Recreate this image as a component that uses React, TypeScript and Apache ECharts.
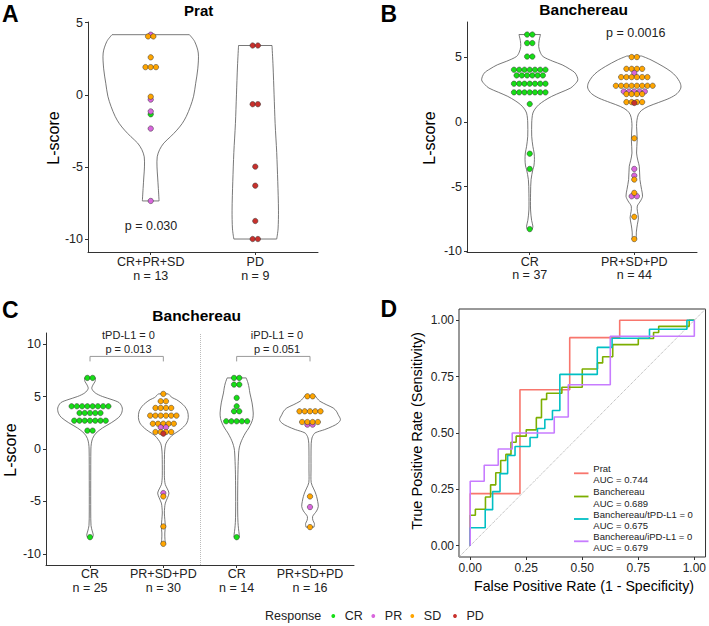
import React, { useEffect, useRef } from "react";
import * as echarts from "echarts";

const FONT = "Liberation Sans, Arial, Helvetica, sans-serif";

// ---------- responses ----------
const RESPONSES = ["CR", "PR", "SD", "PD"];
const RESPONSE_COLORS = ["#16DE16", "#D966DD", "#FFA500", "#C8302C"];

// ---------- panel A (Prat) ----------
const A_CATS = ["CR+PR+SD", "PD"];
const A_NS = [13, 9];
const A_Y_TICKS = [-10, -5, 0, 5];
// [category, L-score, response, count]
const A_DOTS = [
  [1, 4.17, "PR", 1], [1, 4.05, "SD", 2], [1, 2.6, "SD", 1], [1, 1.92, "SD", 3],
  [1, -0.33, "PR", 1], [1, -0.13, "SD", 1], [1, -1.35, "CR", 1], [1, -1.15, "PR", 1],
  [1, -2.34, "PR", 1], [1, -7.36, "PR", 1],
  [2, 3.42, "PD", 2], [2, -0.65, "PD", 2], [2, -4.98, "PD", 1], [2, -6.3, "PD", 1],
  [2, -8.75, "PD", 1], [2, -10, "PD", 2],
];
// violin outlines: [L-score, half width]
const A_VIOLIN_1 = [[4.17, 0.37], [3.7, 0.42], [2.9, 0.455], [1.8, 0.45], [0.8, 0.43], [-0.1, 0.41], [-0.8, 0.38], [-1.5, 0.34], [-2.0, 0.3], [-2.45, 0.25], [-2.9, 0.19], [-3.35, 0.125], [-3.8, 0.085], [-4.3, 0.062], [-5.0, 0.06], [-5.7, 0.066], [-6.5, 0.073], [-7.36, 0.08]];
const A_VIOLIN_2 = [[3.42, 0.16], [2, 0.17], [0, 0.18], [-2, 0.19], [-4, 0.205], [-6, 0.215], [-8, 0.222], [-9.3, 0.218], [-10, 0.205]];

// ---------- panel B (Banchereau) ----------
const B_CATS = ["CR", "PR+SD+PD"];
const B_NS = [37, 44];
const B_Y_TICKS = [-10, -5, 0, 5];
const B_DOTS = [
  [1, 6.76, "CR", 2], [1, 6.1, "CR", 2], [1, 5.06, "CR", 2], [1, 4.04, "CR", 7], [1, 3.6, "CR", 6],
  [1, 2.96, "CR", 7], [1, 2.29, "CR", 7], [1, 1.39, "CR", 1], [1, -2.45, "CR", 1], [1, -3.63, "CR", 1],
  [1, -8.28, "CR", 1],
  [2, 5.02, "SD", 2], [2, 4.11, "SD", 4], [2, 3.78, "PR", 1], [2, 3.47, "SD", 6], [2, 2.8, "SD", 8],
  [2, 2.36, "PR", 5], [2, 2.16, "SD", 4], [2, 1.54, "SD", 4], [2, 1.47, "PD", 1], [2, -1.26, "SD", 1],
  [2, -3.63, "PR", 1], [2, -4.14, "PR", 1], [2, -4.45, "SD", 1], [2, -5.74, "PR", 2], [2, -5.48, "SD", 1],
  [2, -7.33, "SD", 1], [2, -9.05, "SD", 1],
];
const B_VIOLIN_1 = [[6.76, 0.103], [6.3, 0.09], [5.83, 0.086], [5.4, 0.1], [5.06, 0.127], [4.7, 0.22], [4.42, 0.31], [4.1, 0.38], [3.78, 0.435], [3.26, 0.46], [2.9, 0.43], [2.62, 0.39], [2.3, 0.3], [1.98, 0.21], [1.65, 0.14], [1.33, 0.086], [1.0, 0.05], [0.69, 0.03], [0.3, 0.022], [-0.08, 0.019], [-1.1, 0.019], [-1.88, 0.03], [-2.4, 0.042], [-2.9, 0.045], [-3.4, 0.04], [-3.68, 0.03], [-4.45, 0.013], [-5.5, 0.008], [-6.8, 0.008], [-7.6, 0.018], [-8.05, 0.03], [-8.28, 0.025]];
const B_VIOLIN_2 = [[5.1, 0.071], [4.8, 0.16], [4.29, 0.276], [3.9, 0.35], [3.52, 0.4], [3.0, 0.44], [2.62, 0.445], [2.2, 0.41], [1.85, 0.34], [1.5, 0.23], [1.2, 0.133], [0.9, 0.07], [0.56, 0.038], [0.1, 0.025], [-0.34, 0.022], [-1.37, 0.028], [-2.4, 0.022], [-3.0, 0.035], [-3.42, 0.048], [-4.45, 0.054], [-5.22, 0.07], [-5.74, 0.079], [-6.1, 0.06], [-6.5, 0.029], [-6.9, 0.03], [-7.4, 0.04], [-7.9, 0.03], [-8.5, 0.02], [-9.05, 0.02]];

// ---------- panel C (Banchereau, PD-L1 = 0) ----------
const C_CATS = ["CR", "PR+SD+PD", "CR", "PR+SD+PD"];
const C_NS = [25, 30, 14, 16];
const C_Y_TICKS = [-10, -5, 0, 5, 10];
const C_DOTS = [
  [1, 6.77, "CR", 2], [1, 4.07, "CR", 8], [1, 3.43, "CR", 5], [1, 2.7, "CR", 7], [1, 1.75, "CR", 2], [1, -8.4, "CR", 1],
  [2, 5.25, "SD", 1], [2, 4.55, "SD", 2], [2, 3.91, "SD", 4], [2, 3.18, "SD", 6], [2, 2.41, "SD", 5],
  [2, 2.06, "PR", 2], [2, 1.62, "SD", 4], [2, 1.46, "PD", 1], [2, -4.2, "PR", 1], [2, -4.52, "SD", 1],
  [2, -7.38, "SD", 1], [2, -9.03, "SD", 1],
  [3, 6.77, "CR", 2], [3, 6.14, "CR", 2], [3, 4.87, "CR", 1], [3, 4.07, "CR", 1], [3, 3.59, "CR", 2],
  [3, 2.64, "CR", 5], [3, -8.4, "CR", 1],
  [4, 5.02, "SD", 2], [4, 3.59, "SD", 5], [4, 2.32, "PR", 2], [4, 2.57, "SD", 4], [4, -4.52, "SD", 1],
  [4, -5.53, "PR", 1], [4, -7.44, "SD", 1],
];
const C_VIOLIN_1 = [[6.77, 0.075], [6.45, 0.07], [6.1, 0.04], [5.75, 0.025], [5.35, 0.07], [5.0, 0.17], [4.7, 0.3], [4.4, 0.4], [3.9, 0.44], [3.4, 0.43], [3.0, 0.39], [2.5, 0.29], [2.0, 0.17], [1.5, 0.08], [1.0, 0.035], [0.5, 0.018], [0, 0.012], [-3, 0.01], [-6, 0.01], [-7.3, 0.014], [-7.8, 0.03], [-8.2, 0.045], [-8.4, 0.035]];
const C_VIOLIN_2 = [[5.25, 0.068], [4.9, 0.12], [4.7, 0.18], [4.4, 0.24], [4.07, 0.29], [3.6, 0.33], [3.0, 0.34], [2.48, 0.32], [2.0, 0.26], [1.68, 0.2], [1.3, 0.12], [0.89, 0.068], [0.5, 0.035], [0.1, 0.023], [-0.5, 0.016], [-2.5, 0.014], [-3.0, 0.018], [-3.4, 0.027], [-3.8, 0.055], [-4.2, 0.077], [-4.6, 0.06], [-5.15, 0.027], [-5.6, 0.018], [-6.1, 0.014], [-6.7, 0.02], [-7.38, 0.027], [-8.0, 0.02], [-8.6, 0.022], [-9.03, 0.03]];
const C_VIOLIN_3 = [[6.77, 0.13], [6.3, 0.154], [5.8, 0.17], [5.34, 0.18], [4.39, 0.21], [3.43, 0.226], [2.9, 0.22], [2.48, 0.2], [2.0, 0.165], [1.53, 0.12], [1.0, 0.08], [0.57, 0.054], [0.1, 0.035], [-0.38, 0.027], [-1.98, 0.018], [-4, 0.014], [-6, 0.014], [-7.0, 0.018], [-7.6, 0.025], [-8.1, 0.034], [-8.4, 0.036]];
const C_VIOLIN_4 = [[5.02, 0.077], [4.8, 0.1], [4.55, 0.135], [4.2, 0.23], [3.91, 0.316], [3.6, 0.36], [3.27, 0.384], [2.8, 0.415], [2.45, 0.38], [2.16, 0.307], [1.85, 0.2], [1.53, 0.068], [1.2, 0.035], [1.05, 0.027], [0.5, 0.016], [-2, 0.014], [-3.2, 0.016], [-3.72, 0.045], [-4.1, 0.07], [-4.52, 0.09], [-5.0, 0.105], [-5.48, 0.113], [-5.9, 0.09], [-6.43, 0.036], [-6.8, 0.04], [-7.1, 0.06], [-7.44, 0.055]];
const C_BRACKETS = [[1, 2, 8.82], [3, 4, 8.82]];
const C_GROUP_LABELS = ["tPD-L1 = 0\np = 0.013", "iPD-L1 = 0\np = 0.051"];

// ---------- panel D (ROC) ----------
const ROC_TICKS = [0, 0.25, 0.5, 0.75, 1];
const ROC_NAMES = ["Prat", "Banchereau", "Banchereau/tPD-L1 = 0", "Banchereau/iPD-L1 = 0"];
const ROC_AUC = ["0.744", "0.689", "0.675", "0.679"];
const ROC_COLORS = ["#F8766D", "#7CAE00", "#00BFC4", "#C77CFF"];
const ROC_PRAT = [[0, 0], [0, 0.231], [0.222, 0.231], [0.222, 0.692], [0.444, 0.692], [0.444, 0.923], [0.667, 0.923], [0.667, 1], [1, 1]];
const ROC_BANCH = [[0, 0], [0, 0.135], [0.023, 0.135], [0.023, 0.162], [0.068, 0.162], [0.068, 0.216], [0.091, 0.216], [0.091, 0.27], [0.114, 0.27], [0.114, 0.324], [0.136, 0.324], [0.136, 0.378], [0.159, 0.378], [0.159, 0.405], [0.182, 0.405], [0.182, 0.459], [0.205, 0.459], [0.205, 0.486], [0.25, 0.486], [0.25, 0.514], [0.295, 0.514], [0.295, 0.568], [0.318, 0.568], [0.318, 0.649], [0.341, 0.649], [0.341, 0.676], [0.409, 0.676], [0.409, 0.703], [0.5, 0.703], [0.5, 0.784], [0.568, 0.784], [0.568, 0.811], [0.591, 0.811], [0.591, 0.838], [0.636, 0.838], [0.636, 0.892], [0.75, 0.892], [0.75, 0.919], [0.818, 0.919], [0.818, 0.946], [0.841, 0.946], [0.841, 0.973], [0.977, 0.973], [0.977, 1], [1, 1]];
const ROC_TPDL1 = [[0, 0], [0, 0.08], [0.067, 0.08], [0.067, 0.16], [0.1, 0.16], [0.1, 0.24], [0.133, 0.24], [0.133, 0.32], [0.167, 0.32], [0.167, 0.4], [0.2, 0.4], [0.2, 0.44], [0.267, 0.44], [0.267, 0.48], [0.3, 0.48], [0.3, 0.52], [0.333, 0.52], [0.333, 0.56], [0.367, 0.56], [0.367, 0.6], [0.4, 0.6], [0.4, 0.76], [0.567, 0.76], [0.567, 0.88], [0.633, 0.88], [0.633, 0.92], [0.8, 0.92], [0.8, 0.96], [0.967, 0.96], [0.967, 1], [1, 1]];
const ROC_IPDL1 = [[0, 0], [0, 0.286], [0.0625, 0.286], [0.0625, 0.357], [0.125, 0.357], [0.125, 0.429], [0.1875, 0.429], [0.1875, 0.5], [0.375, 0.5], [0.375, 0.571], [0.4375, 0.571], [0.4375, 0.714], [0.625, 0.714], [0.625, 0.929], [1, 0.929], [1, 1]];
const ROC_DIAGONAL = [[-0.05, -0.05], [1.05, 1.05]];

// ---------- drawing constants ----------
const DOT_R = 2.7;
const DOT_STEP = 5.25;
const AXIS_COLOR = "#333";
const TEXT_COLOR = "#222";

function violinSeries(axisIndex: number, outlines: number[][][]) {
  return {
    type: "custom",
    xAxisIndex: axisIndex,
    yAxisIndex: axisIndex,
    silent: true,
    z: 1,
    data: outlines.map((o, i) => [i + 1, o[0][0]]),
    renderItem: (params: any, api: any) => {
      const o = outlines[params.dataIndex];
      const cat = params.dataIndex + 1;
      const left = o.map(([y, w]) => api.coord([cat - w, y]));
      const right = o.map(([y, w]) => api.coord([cat + w, y]));
      const st = { stroke: "#555", lineWidth: 0.8, fill: "none" };
      return {
        type: "group",
        children: [
          { type: "polyline", shape: { points: left, smooth: 0.3 }, style: st },
          { type: "polyline", shape: { points: right, smooth: 0.3 }, style: st },
          { type: "line", shape: { x1: left[0][0], y1: left[0][1], x2: right[0][0], y2: right[0][1] }, style: st },
          {
            type: "line",
            shape: { x1: left[left.length - 1][0], y1: left[left.length - 1][1], x2: right[right.length - 1][0], y2: right[right.length - 1][1] },
            style: st,
          },
        ],
      };
    },
  };
}

function dotSeries(axisIndex: number, rows: any[]) {
  return {
    type: "custom",
    xAxisIndex: axisIndex,
    yAxisIndex: axisIndex,
    silent: true,
    z: 3,
    data: rows.map((r) => [r[0], r[1]]),
    renderItem: (params: any, api: any) => {
      const r = rows[params.dataIndex];
      const [cx, cy] = api.coord([r[0], r[1]]);
      const n = r[3];
      const color = RESPONSE_COLORS[RESPONSES.indexOf(r[2])];
      const children: any[] = [];
      for (let k = 0; k < n; k++) {
        children.push({
          type: "circle",
          shape: { cx: cx + (k - (n - 1) / 2) * DOT_STEP, cy, r: DOT_R },
          style: { fill: color, stroke: "#333", lineWidth: 0.5 },
        });
      }
      return { type: "group", children };
    },
  };
}

function catXAxis(gridIndex: number, cats: string[], ns: number[], margin: number) {
  const vals = cats.map((_, i) => i + 1);
  return {
    type: "value",
    gridIndex,
    min: 0.4,
    max: cats.length + 0.6,
    axisLine: { show: true, onZero: false, lineStyle: { color: AXIS_COLOR, width: 1 } },
    axisTick: { show: true, length: 3, customValues: vals, lineStyle: { color: AXIS_COLOR } },
    axisLabel: {
      customValues: vals,
      formatter: (v: number) => `${cats[Math.round(v) - 1]}\nn = ${ns[Math.round(v) - 1]}`,
      fontSize: 12.5,
      lineHeight: 13.5,
      color: TEXT_COLOR,
      fontFamily: FONT,
      margin,
    },
    splitLine: { show: false },
  };
}

function scoreYAxis(gridIndex: number, min: number, max: number, ticks: number[]) {
  return {
    type: "value",
    gridIndex,
    min,
    max,
    axisLine: { show: true, onZero: false, lineStyle: { color: AXIS_COLOR, width: 1 } },
    axisTick: { show: true, length: 3, customValues: ticks, lineStyle: { color: AXIS_COLOR } },
    axisLabel: { customValues: ticks, fontSize: 12.5, color: TEXT_COLOR, fontFamily: FONT, margin: 5 },
    splitLine: { show: false },
  };
}

function rocAxis(gridIndex: number) {
  return {
    type: "value",
    gridIndex,
    min: -0.05,
    max: 1.05,
    axisLine: { show: false, onZero: false },
    axisTick: { show: true, length: 3, customValues: ROC_TICKS, lineStyle: { color: AXIS_COLOR } },
    axisLabel: {
      customValues: ROC_TICKS,
      formatter: (v: number) => v.toFixed(2),
      fontSize: 12,
      color: TEXT_COLOR,
      fontFamily: FONT,
      margin: 5,
    },
    splitLine: { show: false },
  };
}

function txt(text: string, x: number, y: number, o: any = {}) {
  return {
    type: "text",
    x,
    y,
    rotation: o.rotation || 0,
    silent: true,
    z: 10,
    style: {
      text,
      fill: o.color || TEXT_COLOR,
      fontSize: o.size || 12.5,
      fontFamily: FONT,
      fontWeight: o.weight || "normal",
      align: o.align || "center",
      verticalAlign: "middle",
      textAlign: o.align || "center",
      textVerticalAlign: "middle",
      lineHeight: o.lh || undefined,
    },
  };
}

export default function App() {
  const ref = useRef<HTMLDivElement>(null);

  useEffect(() => {
    if (!ref.current) return;
    const chart = echarts.init(ref.current, null, { renderer: "svg" });

    const rocSets = [ROC_PRAT, ROC_BANCH, ROC_TPDL1, ROC_IPDL1];

    const graphic: any[] = [
      // panel letters
      txt("A", 2, 13.5, { size: 23, weight: "bold", align: "left", color: "#000" }),
      txt("B", 380.5, 13.5, { size: 23, weight: "bold", align: "left", color: "#000" }),
      txt("C", 2, 310, { size: 23, weight: "bold", align: "left", color: "#000" }),
      txt("D", 380.5, 308.5, { size: 23, weight: "bold", align: "left", color: "#000" }),
      // titles
      txt("Prat", 198.7, 10, { size: 15, weight: "bold", color: "#000" }),
      txt("Banchereau", 583.7, 9, { size: 15.5, weight: "bold", color: "#000" }),
      txt("Banchereau", 196.7, 315, { size: 15.5, weight: "bold", color: "#000" }),
      // axis titles
      txt("L-score", 53, 138, { size: 16, rotation: Math.PI / 2, color: "#000" }),
      txt("L-score", 429, 138, { size: 16, rotation: Math.PI / 2, color: "#000" }),
      txt("L-score", 10, 450, { size: 16, rotation: Math.PI / 2, color: "#000" }),
      txt("True Positive Rate (Sensitivity)", 417, 431, { size: 14.5, rotation: Math.PI / 2, color: "#000" }),
      txt("False Positive Rate (1 - Specificity)", 584, 585.7, { size: 14.2, color: "#000" }),
      // p-values
      txt("p = 0.030", 151, 226),
      txt("p = 0.0016", 635.7, 32.5),
      txt(C_GROUP_LABELS[0], 128.5, 342.2, { size: 11, lh: 14.3 }),
      txt(C_GROUP_LABELS[1], 277, 342.2, { size: 11, lh: 14.3 }),
    ];

    // ROC legend
    const rocLegendY = [473.3, 496.5, 519, 541.3];
    ROC_NAMES.forEach((name, i) => {
      graphic.push({
        type: "line",
        silent: true,
        shape: { x1: 574, y1: rocLegendY[i], x2: 588.5, y2: rocLegendY[i] },
        style: { stroke: ROC_COLORS[i], lineWidth: 1.8 },
      });
      graphic.push(txt(`${name}\nAUC = ${ROC_AUC[i]}`, 593.3, rocLegendY[i] + 1, { size: 9.5, lh: 11.3, align: "left" }));
    });

    // bottom legend
    graphic.push(txt("Response", 265, 616, { size: 12.5, align: "left" }));
    const legendDotX = [333.3, 373.3, 412.3, 455];
    RESPONSES.forEach((r, i) => {
      graphic.push({
        type: "circle",
        silent: true,
        shape: { cx: legendDotX[i], cy: 616, r: 1.9 },
        style: { fill: RESPONSE_COLORS[i] },
      });
      graphic.push(txt(r, legendDotX[i] + 11.5, 616, { size: 12.5, align: "left" }));
    });

    chart.setOption({
      animation: false,
      backgroundColor: "#fff",
      grid: [
        { left: 88, top: 22, width: 230, height: 230 },
        { left: 467, top: 22, width: 230, height: 230 },
        { left: 46, top: 333, width: 308, height: 232 },
        { left: 459, top: 309, width: 248, height: 248, show: true, borderColor: "#333", borderWidth: 1, backgroundColor: "transparent" },
      ],
      xAxis: [
        catXAxis(0, A_CATS, A_NS, 3.5),
        catXAxis(1, B_CATS, B_NS, 3),
        catXAxis(2, C_CATS, C_NS, 2.5),
        rocAxis(3),
      ],
      yAxis: [
        scoreYAxis(0, -10.9, 5.05, A_Y_TICKS),
        scoreYAxis(1, -10.05, 7.73, B_Y_TICKS),
        scoreYAxis(2, -11.05, 11.05, C_Y_TICKS),
        rocAxis(3),
      ],
      series: [
        violinSeries(0, [A_VIOLIN_1, A_VIOLIN_2]),
        violinSeries(1, [B_VIOLIN_1, B_VIOLIN_2]),
        {
          ...violinSeries(2, [C_VIOLIN_1, C_VIOLIN_2, C_VIOLIN_3, C_VIOLIN_4]),
          markLine: {
            silent: true,
            symbol: "none",
            label: { show: false },
            lineStyle: { color: "#bbb", type: "dotted", width: 1 },
            data: [{ xAxis: 2.5 }],
          },
        },
        dotSeries(0, A_DOTS),
        dotSeries(1, B_DOTS),
        dotSeries(2, C_DOTS),
        {
          type: "custom",
          xAxisIndex: 2,
          yAxisIndex: 2,
          silent: true,
          data: C_BRACKETS.map((b) => [b[0], b[2]]),
          renderItem: (params: any, api: any) => {
            const b = C_BRACKETS[params.dataIndex];
            const p1 = api.coord([b[0], b[2]]);
            const p2 = api.coord([b[1], b[2]]);
            return {
              type: "polyline",
              shape: { points: [[p1[0], p1[1] + 5], p1, p2, [p2[0], p2[1] + 5]] },
              style: { stroke: "#999", lineWidth: 1, fill: "none" },
            };
          },
        },
        {
          type: "line",
          xAxisIndex: 3,
          yAxisIndex: 3,
          data: ROC_DIAGONAL,
          showSymbol: false,
          silent: true,
          lineStyle: { color: "#aaa", type: "dotted", width: 1 },
        },
        ...rocSets.map((d, i) => ({
          type: "line",
          name: ROC_NAMES[i],
          xAxisIndex: 3,
          yAxisIndex: 3,
          data: d,
          showSymbol: false,
          silent: true,
          lineStyle: { color: ROC_COLORS[i], width: 1.6 },
        })),
      ],
      graphic,
    });

    return () => chart.dispose();
  }, []);

  return <div ref={ref} style={{ position: "absolute", left: 0, top: 0, width: 709, height: 626 }} />;
}
